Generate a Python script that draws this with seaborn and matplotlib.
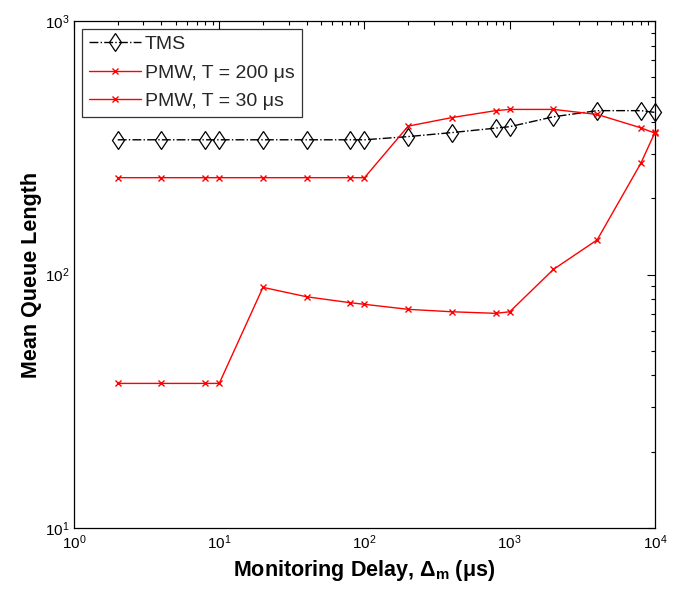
import numpy as np
import pandas as pd
import matplotlib
matplotlib.use("Agg")
import matplotlib.pyplot as plt
import seaborn as sns
from matplotlib.ticker import LogLocator, NullFormatter

sns.set_theme(style="white")
plt.rcParams["font.family"] = ["Liberation Sans", "DejaVu Sans"]
plt.rcParams["mathtext.fontset"] = "custom"
plt.rcParams["mathtext.rm"] = "Liberation Sans"
plt.rcParams["mathtext.it"] = "Liberation Sans"
plt.rcParams["mathtext.bf"] = "Liberation Sans:bold"
plt.rcParams["mathtext.default"] = "regular"

# Monitoring delay (µs)
delay = [2, 4, 8, 10, 20, 40, 80, 100, 200, 400, 800, 1000, 2000, 4000, 8000, 10000]

# Mean queue length per scheme
tms = [340, 340, 340, 340, 340, 340, 340, 340, 350, 363, 378, 383, 419, 443, 443, 436]
pmw_200 = [241, 241, 241, 241, 241, 241, 241, 241, 385, 416, 443, 448, 448, 428, 379, 361]
pmw_30 = [37.2, 37.2, 37.2, 37.2, 89, 81.7, 77.4, 76.3, 72.9, 71.3, 70.3, 71.3, 104.8, 137, 275, 364]

labels = ["TMS", "PMW, T = 200 \u03bcs", "PMW, T = 30 \u03bcs"]
df = pd.DataFrame({
    "delay": delay * 3,
    "qlen": tms + pmw_200 + pmw_30,
    "series": [labels[0]] * len(delay) + [labels[1]] * len(delay) + [labels[2]] * len(delay),
})

fig = plt.figure(figsize=(6.87, 5.90), dpi=100)
ax = fig.add_axes([0.1077, 0.105, 0.8457, 0.8594])

red = "#ff0000"
styles = {
    labels[0]: dict(color="black", linestyle="-.", marker="d", markersize=9.5,
                    markerfacecolor="none", markeredgecolor="black", markeredgewidth=0.9),
    labels[1]: dict(color=red, linestyle="-", marker="x", markersize=5,
                    markeredgecolor=red, markerfacecolor=red, markeredgewidth=1.0),
    labels[2]: dict(color=red, linestyle="-", marker="x", markersize=5,
                    markeredgecolor=red, markerfacecolor=red, markeredgewidth=1.0),
}
for name in labels:
    sub = df[df["series"] == name]
    sns.lineplot(data=sub, x="delay", y="qlen", ax=ax, label=name,
                 linewidth=1.0, clip_on=False, **styles[name])

ax.set_xscale("log")
ax.set_yscale("log")
ax.set_xlim(1, 1e4)
ax.set_ylim(10, 1000)

ax.xaxis.set_major_locator(LogLocator(base=10, numticks=10))
ax.xaxis.set_minor_locator(LogLocator(base=10, subs=np.arange(2, 10), numticks=20))
ax.yaxis.set_major_locator(LogLocator(base=10, numticks=10))
ax.yaxis.set_minor_locator(LogLocator(base=10, subs=np.arange(2, 10), numticks=20))
ax.xaxis.set_minor_formatter(NullFormatter())
ax.yaxis.set_minor_formatter(NullFormatter())

ax.tick_params(which="both", direction="in", top=True, right=True, colors="black",
               labelsize=11)
ax.tick_params(which="major", length=6, width=0.8)
ax.tick_params(which="minor", length=3, width=0.8)
for s in ax.spines.values():
    s.set_color("black")
    s.set_linewidth(0.9)
    s.set_zorder(1)

ax.set_xlabel(r"Monitoring Delay, $\Delta_{m}$ ($\mu$s)", fontsize=15.5,
              fontweight="bold", color="black", labelpad=5)
ax.set_ylabel("Mean Queue Length", fontsize=15.5, fontweight="bold", color="black",
              labelpad=2)

leg = ax.legend(loc="upper left", fontsize=14, frameon=True, fancybox=False,
                edgecolor="black", handlelength=2.7, borderpad=0.35,
                labelspacing=0.55, handletextpad=0.2, borderaxespad=0.4)
leg.get_frame().set_linewidth(0.9)
leg.set_zorder(5)

fig.savefig("out.png", dpi=100, facecolor="white")
